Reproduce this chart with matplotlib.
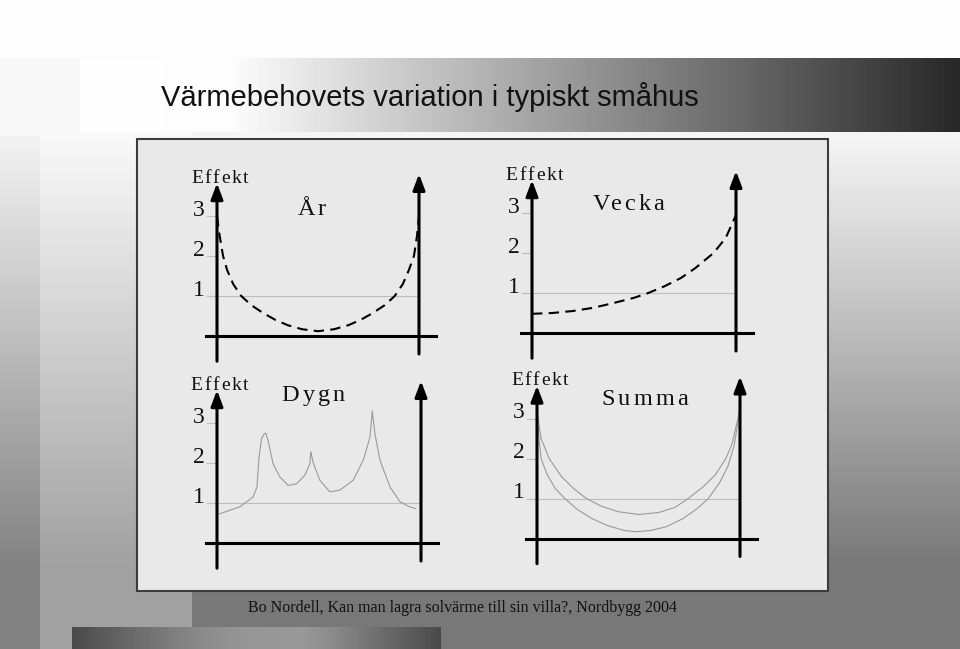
import numpy as np
import matplotlib
matplotlib.use("Agg")
import matplotlib.pyplot as plt
from matplotlib.patches import Rectangle
from matplotlib.font_manager import FontProperties
from matplotlib.textpath import TextToPath

# ---- data (Effekt units, time as fraction of the period) ----
title = "Värmebehovets variation i typiskt småhus"
source = "Bo Nordell, Kan man lagra solvärme till sin villa?, Nordbygg 2004"
ylabel = "Effekt"
tick_values = [1, 2, 3]
tick_labels = ["1", "2", "3"]

ar_t = [0.0, 0.01, 0.02, 0.03, 0.05, 0.08, 0.12, 0.17, 0.23, 0.29, 0.35, 0.42, 0.5,
        0.58, 0.65, 0.71, 0.77, 0.83, 0.88, 0.92, 0.95, 0.975, 0.99, 1.0]
ar_y = [3.0, 2.6, 2.3, 2.0, 1.65, 1.3, 1.0, 0.77, 0.57, 0.4, 0.27, 0.17, 0.12,
        0.17, 0.27, 0.4, 0.57, 0.77, 1.0, 1.3, 1.65, 2.0, 2.5, 3.0]

vecka_t = [0.0, 0.1, 0.2, 0.3, 0.4, 0.5, 0.57, 0.65, 0.73, 0.8, 0.89, 0.95, 1.0]
vecka_y = [0.48, 0.5, 0.55, 0.63, 0.75, 0.88, 1.0, 1.17, 1.375, 1.62, 2.0, 2.38, 2.95]

dygn_t = [0.013, 0.11, 0.177, 0.196, 0.206, 0.218, 0.23, 0.239, 0.25, 0.275, 0.308, 0.349,
          0.39, 0.43, 0.455, 0.46, 0.47, 0.504, 0.553, 0.602, 0.668, 0.717, 0.75,
          0.761, 0.774, 0.799, 0.848, 0.897, 0.946, 0.975]
dygn_y = [0.73, 0.9, 1.15, 1.4, 2.15, 2.6, 2.72, 2.75, 2.57, 1.98, 1.65, 1.44,
          1.48, 1.69, 1.98, 2.28, 2.03, 1.57, 1.28, 1.32, 1.57, 2.07, 2.65,
          3.3, 2.73, 2.07, 1.4, 1.03, 0.9, 0.86]

summa_hi_t = [0.0, 0.02, 0.06, 0.12, 0.18, 0.243, 0.32, 0.4, 0.5, 0.6, 0.68, 0.745,
              0.82, 0.88, 0.93, 0.96, 0.99, 1.0]
summa_hi_y = [3.2, 2.5, 2.0, 1.55, 1.25, 1.0, 0.8, 0.67, 0.6, 0.65, 0.78, 1.0,
              1.3, 1.6, 2.0, 2.35, 3.0, 3.3]
summa_lo_t = [0.0, 0.01, 0.02, 0.05, 0.09, 0.137, 0.2, 0.27, 0.35, 0.43, 0.49, 0.56,
              0.64, 0.72, 0.79, 0.844, 0.9, 0.94, 0.97, 0.99, 1.0]
summa_lo_y = [3.1, 2.5, 2.0, 1.6, 1.25, 1.0, 0.72, 0.5, 0.32, 0.2, 0.17, 0.2,
              0.3, 0.5, 0.75, 1.0, 1.4, 1.8, 2.3, 2.9, 3.3]

W, H = 960, 649
fig = plt.figure(figsize=(W / 100, H / 100), dpi=100)

# ---- slide background ----
bg = fig.add_axes([0, 0, 1, 1])
bg.set_xlim(0, W)
bg.set_ylim(H, 0)
bg.axis("off")

yy = np.arange(H)[:, None] * np.ones((1, W))
xx = np.ones((H, 1)) * np.arange(W)[None, :]
ramp = np.clip((yy - 135) / (565 - 135), 0, 1)
img = 0.96 - ramp * (0.96 - 0.47)
light_col = (xx >= 40) & (xx < 192)
img[light_col] = (0.975 - ramp * (0.975 - 0.63))[light_col]
left_strip = xx < 40
img[left_strip] = (0.95 - ramp * (0.95 - 0.51))[left_strip]
img[:58, :] = 0.99
img[58:135, :80] = 0.97
bg.imshow(img, cmap="gray", vmin=0, vmax=1, extent=(0, W, H, 0), aspect="auto", zorder=0)

# title band
bx = np.arange(80, W)
band = np.interp(bx, [80, 230, 955], [0.995, 0.99, 0.16])
bg.imshow(band[None, :], cmap="gray", vmin=0, vmax=1, extent=(80, W, 132, 58),
          aspect="auto", zorder=1)
bg.text(161, 106, title, fontsize=21, family="Liberation Sans", color="#111111",
        va="baseline", ha="left", zorder=3)

# bottom bar
fx = np.arange(72, 441)
foot = np.interp(fx, [72, 133, 192, 233, 300, 333, 383, 440],
                 [0.29, 0.42, 0.53, 0.58, 0.6, 0.54, 0.42, 0.29])
bg.imshow(foot[None, :], cmap="gray", vmin=0, vmax=1, extent=(72, 441, H, 627),
          aspect="auto", zorder=1)

# panel
bg.add_patch(Rectangle((137, 139), 691, 452, facecolor="#e9e9e9", edgecolor="#3c3c3c",
                       lw=1.5, zorder=2))
bg.text(248, 612, source, fontsize=11.5, family="Liberation Serif", color="#111111",
        va="baseline", ha="left", zorder=3)

t2p = TextToPath()


def ink(s, fp):
    return t2p.get_text_width_height_descent(s, fp, ismath=False)[0]


def spaced(ax, x, y, s, size, spacing, ha="left"):
    # letter-spaced text; every glyph is placed by its ink left edge
    fp = FontProperties(family="Liberation Serif", size=size)
    total = ink(s, fp) + (len(s) - 1) * spacing
    shift = -total / 2 if ha == "center" else 0
    for i, ch in enumerate(s):
        left = ink(s[:i + 1], fp) - ink(ch, fp)
        ax.annotate(ch, (x, y), xytext=(left + i * spacing + shift, 0),
                    textcoords="offset points", fontproperties=fp, va="baseline",
                    ha="left", color="#111111", annotation_clip=False, zorder=5)


# panel geometry in pixels: left axis, right axis, baseline
panels = [
    dict(L=217, R=419, base=336, name="År", nx=0.469, ny=3.02),
    dict(L=532, R=736, base=333, name="Vecka", nx=0.473, ny=3.08),
    dict(L=217, R=421, base=543, name="Dygn", nx=0.472, ny=3.56),
    dict(L=537, R=740, base=538.5, name="Summa", nx=0.53, ny=3.34),
]
unit = 40
axes = []
for p in panels:
    ax = fig.add_axes([p["L"] / W, (H - p["base"]) / H, (p["R"] - p["L"]) / W, 4 * unit / H])
    ax.set_xlim(0, 1)
    ax.set_ylim(0, 4)
    ax.axis("off")
    ax.patch.set_alpha(0)
    # grid line at 1, short ticks at 2 and 3
    ax.plot([-0.05, 1.0], [1, 1], color="#bdbdbd", lw=0.8, clip_on=False, zorder=2)
    for v, lab in zip(tick_values, tick_labels):
        ax.plot([-0.05, 0], [v, v], color="#bdbdbd", lw=0.8, clip_on=False, zorder=2)
        ax.text(-0.062, v, lab, fontsize=17, family="Liberation Serif", ha="right",
                va="baseline", color="#111111")
    # axes with arrows
    arrow = dict(arrowstyle="-|>,head_length=0.95,head_width=0.36", lw=2.2, color="black",
                 mutation_scale=10, shrinkA=0, shrinkB=0)
    ax.annotate("", xy=(0, 3.82), xytext=(0, -0.63), arrowprops=arrow, annotation_clip=False,
                zorder=4)
    ax.annotate("", xy=(1, 4.05), xytext=(1, -0.45), arrowprops=arrow, annotation_clip=False,
                zorder=4)
    ax.plot([-0.055, 1.085], [0, 0], color="black", lw=2.2, clip_on=False, zorder=4)
    spaced(ax, -0.128, 3.83, ylabel, 14, 1.3)
    spaced(ax, p["nx"], p["ny"], p["name"], 17.5, 2.2, ha="center")
    axes.append(ax)

dash = (0, (5, 3))
axes[0].plot(ar_t, ar_y, color="black", lw=1.5, linestyle=dash, clip_on=False, zorder=3)
axes[1].plot(vecka_t, vecka_y, color="black", lw=1.5, linestyle=dash, clip_on=False, zorder=3)
axes[2].plot(dygn_t, dygn_y, color="#9a9a9a", lw=0.8, clip_on=False, zorder=3)
axes[3].plot(summa_hi_t, summa_hi_y, color="#9a9a9a", lw=0.8, clip_on=False, zorder=3)
axes[3].plot(summa_lo_t, summa_lo_y, color="#9a9a9a", lw=0.8, clip_on=False, zorder=3)

fig.savefig("out.png", dpi=100)
